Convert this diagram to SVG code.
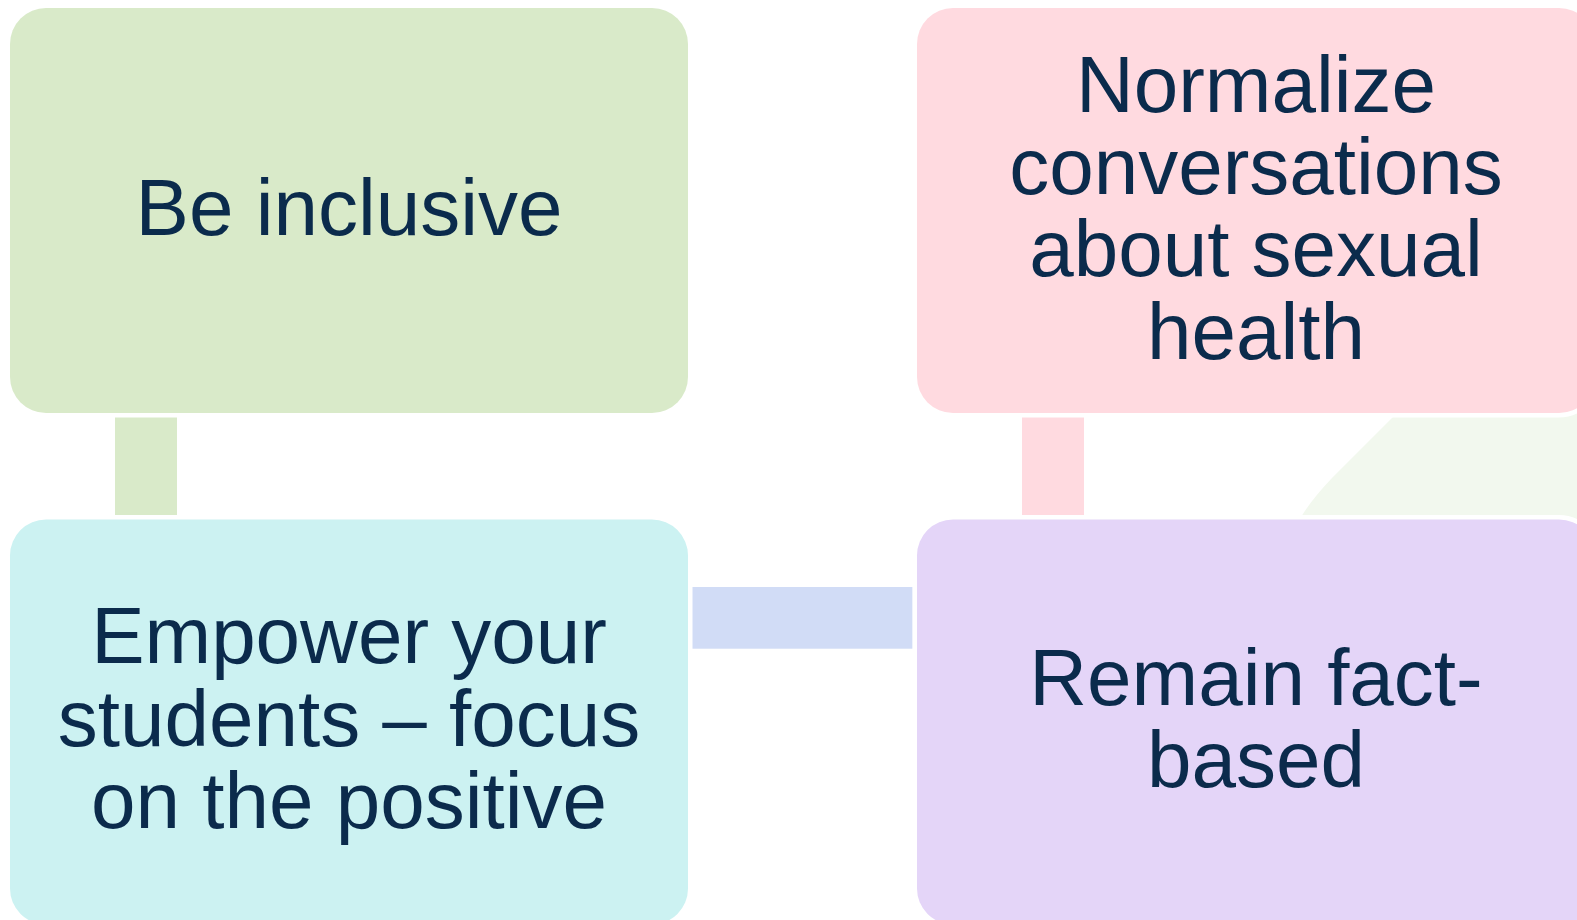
<svg xmlns="http://www.w3.org/2000/svg" width="1577" height="920" viewBox="0 0 1577 920">
<style>
.box{stroke:#FFFFFF;stroke-width:9;paint-order:stroke}
.t{font-family:"Liberation Sans",Arial,sans-serif;font-size:80px;fill:#0B2B4C;text-anchor:middle}
</style>
<rect x="0" y="0" width="1577" height="920" fill="#FFFFFF"/>
<path id="bg-shape" d="M1405,405 L1600,405 L1600,530 L1294,530 L1301.7,516 Q1312,499 1332,478 Z" fill="#F2F8EE"/>
<g id="connectors">
<rect x="115" y="416.7" width="62" height="99" fill="#D9EAC9"/>
<rect x="1022" y="416.7" width="62" height="99" fill="#FFDAE0"/>
<rect x="691.7" y="587" width="221" height="61.7" fill="#D1DCF6"/>
</g>
<g id="node-inclusive">
<rect class="box" x="10" y="8" width="678" height="405" rx="36" fill="#D9EAC9"/>
<text class="t" x="349" y="235">Be inclusive</text>
</g>
<g id="node-normalize">
<rect class="box" x="917" y="8" width="678" height="405" rx="36" fill="#FFDAE0"/>
<text class="t" x="1256" y="112">Normalize</text>
<text class="t" x="1256" y="194.2">conversations</text>
<text class="t" x="1256" y="276.4">about sexual</text>
<text class="t" x="1256" y="358.6">health</text>
</g>
<g id="node-empower">
<rect class="box" x="10" y="519.5" width="678" height="405" rx="36" fill="#CCF2F2"/>
<text class="t" x="349" y="662.7">Empower your</text>
<text class="t" x="349" y="745.5">students – focus</text>
<text class="t" x="349" y="828.3">on the positive</text>
</g>
<g id="node-fact">
<rect class="box" x="917" y="519.5" width="678" height="405" rx="36" fill="#E4D5F8"/>
<text class="t" x="1256" y="705">Remain fact-</text>
<text class="t" x="1256" y="787">based</text>
</g>
</svg>
